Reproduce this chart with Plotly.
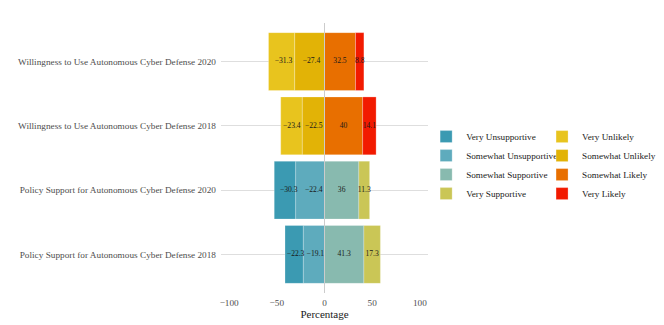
import plotly.graph_objects as go

categories = [
    "Policy Support for Autonomous Cyber Defense 2018",
    "Policy Support for Autonomous Cyber Defense 2020",
    "Willingness to Use Autonomous Cyber Defense 2018",
    "Willingness to Use Autonomous Cyber Defense 2020",
]

# support items (policy rows only)
very_unsupportive = [-19.1, -22.4, None, None]
somewhat_unsupportive = [-22.3, -30.3, None, None]
somewhat_supportive = [41.3, 36, None, None]
very_supportive = [17.3, 11.3, None, None]

# likelihood items (willingness rows only)
very_unlikely = [None, None, -22.5, -27.4]
somewhat_unlikely = [None, None, -23.4, -31.3]
somewhat_likely = [None, None, 40, 32.5]
very_likely = [None, None, 14.1, 8.8]

xticks = [-100, -50, 0, 50, 100]

font = "Liberation Serif"

# order matters: first trace sits next to zero
series = [
    ("Somewhat Unsupportive", somewhat_unsupportive, "#5EABBD", "legend"),
    ("Very Unsupportive", very_unsupportive, "#3B9AB2", "legend"),
    ("Somewhat Supportive", somewhat_supportive, "#88BAAF", "legend"),
    ("Very Supportive", very_supportive, "#CAC656", "legend"),
    ("Somewhat Unlikely", somewhat_unlikely, "#E2B306", "legend2"),
    ("Very Unlikely", very_unlikely, "#E8C41E", "legend2"),
    ("Somewhat Likely", somewhat_likely, "#E86F00", "legend2"),
    ("Very Likely", very_likely, "#F21A00", "legend2"),
]
legend_rank = {
    "Very Unsupportive": 1, "Somewhat Unsupportive": 2,
    "Somewhat Supportive": 3, "Very Supportive": 4,
    "Very Unlikely": 1, "Somewhat Unlikely": 2,
    "Somewhat Likely": 3, "Very Likely": 4,
}

fig = go.Figure()
for name, vals, col, leg in series:
    fig.add_trace(go.Bar(
        y=categories, x=vals, orientation="h", name=name,
        marker=dict(color=col, line=dict(color="rgba(255,255,255,0.5)", width=0.5)),
        width=0.9, legend=leg, legendrank=legend_rank[name],
    ))


def fmt(v):
    s = ("%.1f" % abs(v)).rstrip("0").rstrip(".")
    return ("\u2212" + s) if v < 0 else s


# labels, stacked the way the original chart placed them
lx, ly, lt = [], [], []
pairs = [
    (very_unsupportive, somewhat_unsupportive),
    (somewhat_supportive, very_supportive),
    (very_unlikely, somewhat_unlikely),
    (somewhat_likely, very_likely),
]
for a, b in pairs:
    for i, cat in enumerate(categories):
        if a[i] is None:
            continue
        lx += [a[i] / 2, a[i] + b[i] / 2]
        ly += [cat, cat]
        lt += [fmt(a[i]), fmt(b[i])]

fig.add_trace(go.Scatter(
    x=lx, y=ly, text=lt, mode="text", showlegend=False, hoverinfo="skip",
    textfont=dict(family=font, size=7.6, color="#1a1a1a"),
))

fig.add_vline(x=0, line=dict(color="#cccccc", width=1), layer="above")

leg_style = dict(xanchor="left", yanchor="top", bgcolor="rgba(0,0,0,0)",
                 font=dict(family=font, size=9.2, color="#1a1a1a"),
                 tracegroupgap=0, itemwidth=30)

fig.update_layout(
    width=656, height=317,
    margin=dict(l=213, r=236, t=15, b=32, autoexpand=False),
    barmode="relative",
    plot_bgcolor="white", paper_bgcolor="white",
    font=dict(family=font, size=9, color="#4d4d4d"),
    legend=dict(x=0.991, y=0.633, **leg_style),
    legend2=dict(x=1.551, y=0.633, **leg_style),
    xaxis=dict(range=[-108.5, 108.5], tickvals=xticks, showgrid=False,
               zeroline=False, showline=False, ticks="", automargin=False,
               ticklabelstandoff=3,
               tickfont=dict(size=9.2, color="#4d4d4d"),
               title=dict(text="Percentage", font=dict(size=11, color="#1a1a1a"),
                          standoff=1)),
    yaxis=dict(categoryorder="array", categoryarray=categories,
               range=[-0.6, 3.6], showgrid=True, gridcolor="#dedede",
               gridwidth=1, zeroline=False, ticks="", ticklabelstandoff=4,
               automargin=False, tickfont=dict(size=9.25, color="#4d4d4d")),
)

fig.write_html("out.html")
